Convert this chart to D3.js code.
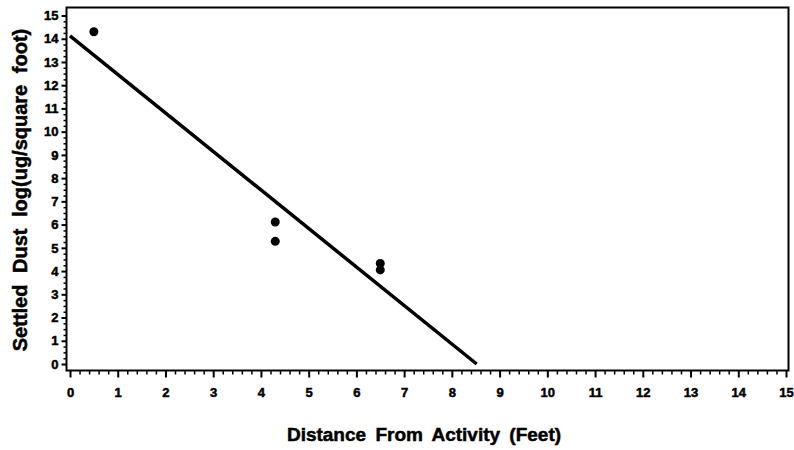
<!DOCTYPE html>
<html>
<head>
<meta charset="utf-8">
<script src="https://cdn.jsdelivr.net/npm/d3@7"></script>
<style>
  body { margin: 0; background: #fff; }
  svg text { font-family: "Liberation Sans", Arial, sans-serif; font-weight: bold; fill: #000; stroke: #000; stroke-width: 0.5px; }
</style>
</head>
<body>
<div id="chart"></div>
<script>
// observed points
const distX = [0.5, 4.3, 4.3, 6.5, 6.5];
const dustY = [14.3, 6.11, 5.28, 4.33, 4.05];

// fitted line endpoints
const fitX = [0, 8.52];
const fitY = [14.12, 0];

const xTicks = d3.range(0, 16);
const yTicks = d3.range(0, 16);

const xTitle = "Distance From Activity (Feet)";
const yTitle = "Settled Dust log(ug/square foot)";

const width = 794, height = 450;
const frame = { left: 66.5, top: 7.5, right: 788.5, bottom: 370.5 };

const svg = d3.select("#chart").append("svg")
    .attr("width", width)
    .attr("height", height);

const x = d3.scaleLinear().domain([0, 15]).range([70, 786]);
const y = d3.scaleLinear().domain([0, 15]).range([364, 15.5]);

// frame
svg.append("rect")
    .attr("x", frame.left)
    .attr("y", frame.top)
    .attr("width", frame.right - frame.left)
    .attr("height", frame.bottom - frame.top)
    .attr("fill", "none")
    .attr("stroke", "#000")
    .attr("stroke-width", 2);

// x axis: major + minor ticks
const xMinor = d3.range(0, 15.001, 0.2).filter(v => Math.abs(v - Math.round(v)) > 1e-6);
const xAxisG = svg.append("g").attr("transform", `translate(0,${frame.bottom})`);
xAxisG.call(d3.axisBottom(x).tickValues(xMinor).tickSize(4).tickFormat(""))
    .call(g => g.select(".domain").remove())
    .call(g => g.selectAll("line").attr("stroke-width", 1.5));
xAxisG.append("g")
    .call(d3.axisBottom(x).tickValues(xTicks).tickSize(7).tickPadding(10).tickFormat(d3.format("d")))
    .call(g => g.select(".domain").remove())
    .call(g => g.selectAll("line").attr("stroke-width", 2))
    .call(g => g.selectAll("text").style("font-size", "13px").style("font-family", null));

// y axis: major + minor ticks
const yMinor = d3.range(0, 15.001, 0.25).filter(v => Math.abs(v - Math.round(v)) > 1e-6);
const yAxisG = svg.append("g").attr("transform", `translate(${frame.left},0)`);
yAxisG.call(d3.axisLeft(y).tickValues(yMinor).tickSize(3).tickFormat(""))
    .call(g => g.select(".domain").remove())
    .call(g => g.selectAll("line").attr("stroke-width", 1.5));
yAxisG.append("g")
    .call(d3.axisLeft(y).tickValues(yTicks).tickSize(5).tickPadding(3).tickFormat(d3.format("d")))
    .call(g => g.select(".domain").remove())
    .call(g => g.selectAll("line").attr("stroke-width", 2))
    .call(g => g.selectAll("text").style("font-size", "13px").style("font-family", null));

// fitted line
svg.append("path")
    .datum(fitX.map((d, i) => [d, fitY[i]]))
    .attr("fill", "none")
    .attr("stroke", "#000")
    .attr("stroke-width", 3.5)
    .attr("d", d3.line().x(d => x(d[0])).y(d => y(d[1])));

// points
svg.append("g").selectAll("circle")
    .data(distX.map((d, i) => [d, dustY[i]]))
    .join("circle")
    .attr("cx", d => x(d[0]))
    .attr("cy", d => y(d[1]))
    .attr("r", 4.5)
    .attr("fill", "#000");

// axis titles
svg.append("text")
    .attr("x", 424)
    .attr("y", 441)
    .attr("text-anchor", "middle")
    .style("font-size", "19px")
    .style("word-spacing", "4px")
    .text(xTitle);

svg.append("text")
    .attr("transform", `translate(27,190) rotate(-90)`)
    .attr("text-anchor", "middle")
    .style("font-size", "20px")
    .style("word-spacing", "6px")
    .text(yTitle);
</script>
</body>
</html>
